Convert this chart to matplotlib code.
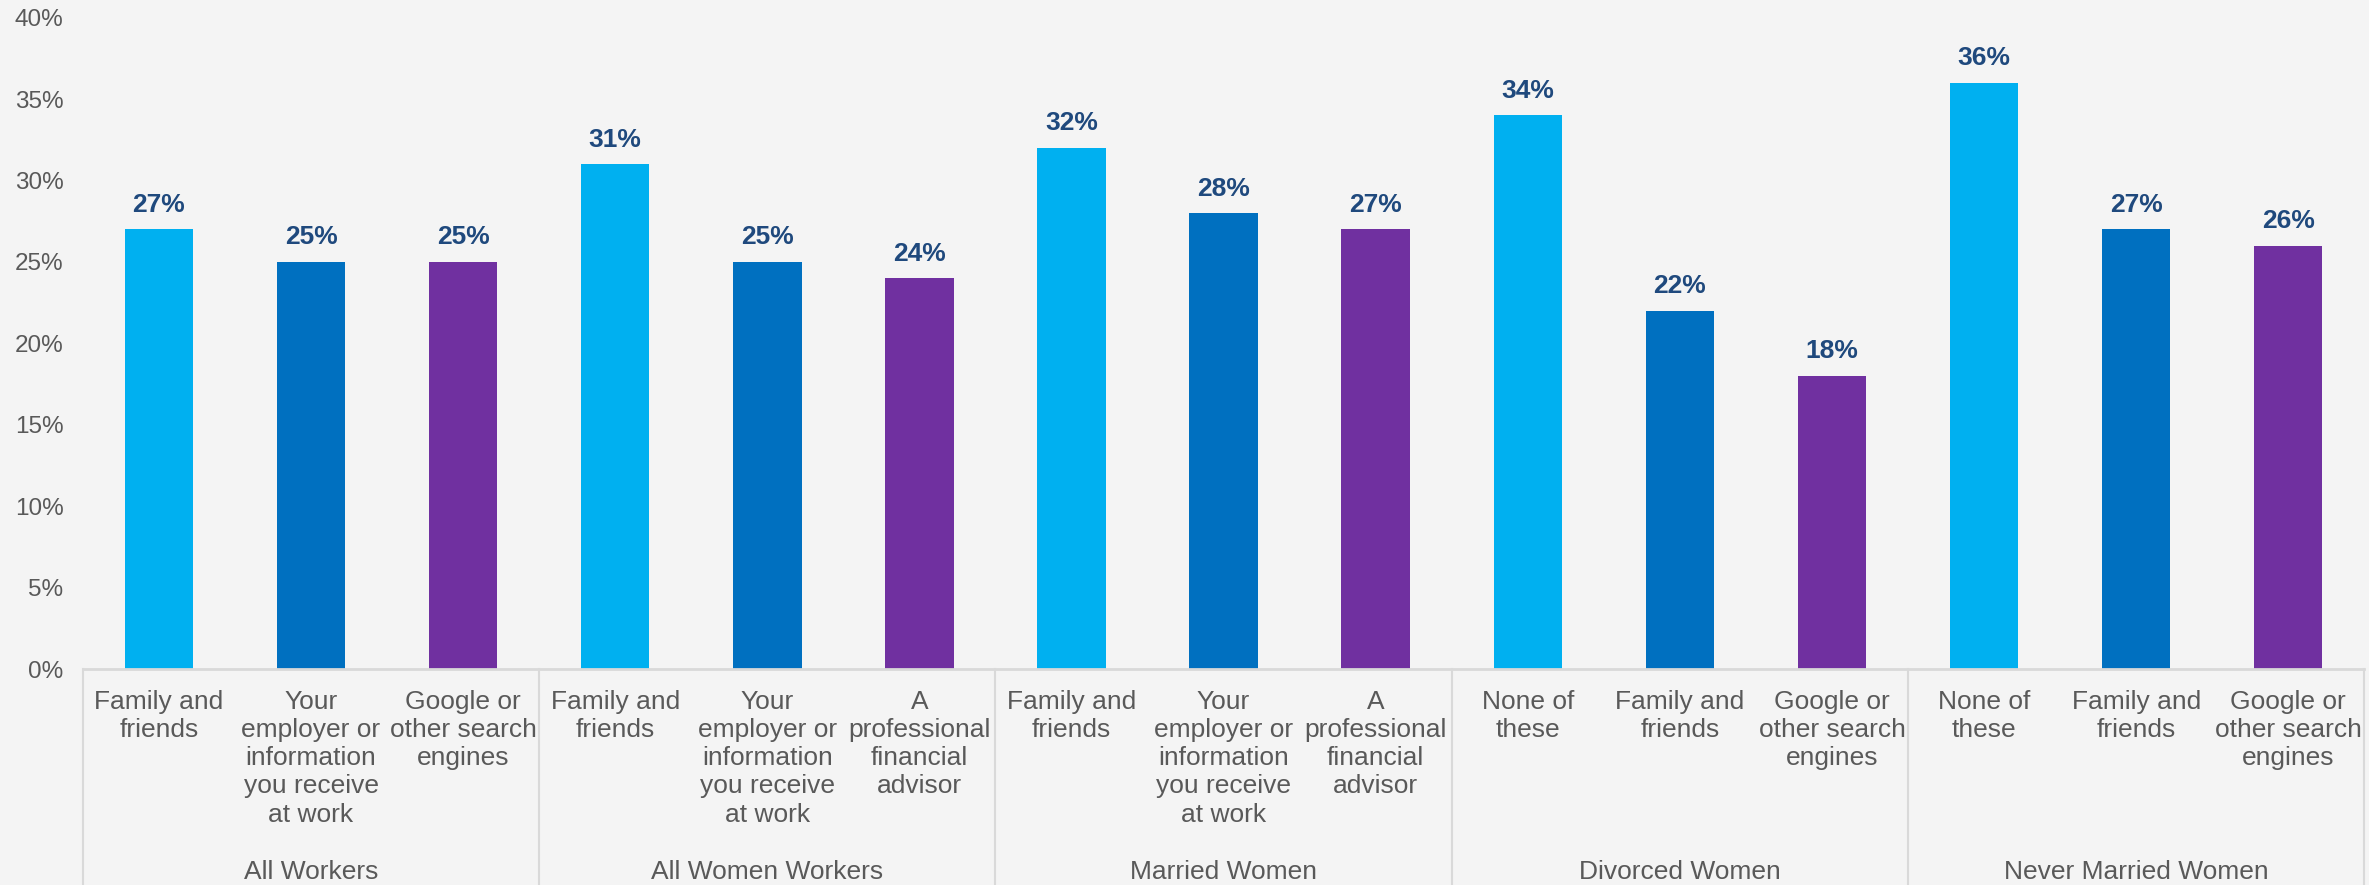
import matplotlib
matplotlib.use("Agg")
import matplotlib.pyplot as plt
import matplotlib.transforms as mtransforms
import numpy as np

plt.rcParams["font.family"] = ["Liberation Sans", "DejaVu Sans"]

groups = ["All Workers", "All Women Workers", "Married Women", "Divorced Women", "Never Married Women"]
categories = [
    ["Family and\nfriends", "Your\nemployer or\ninformation\nyou receive\nat work", "Google or\nother search\nengines"],
    ["Family and\nfriends", "Your\nemployer or\ninformation\nyou receive\nat work", "A\nprofessional\nfinancial\nadvisor"],
    ["Family and\nfriends", "Your\nemployer or\ninformation\nyou receive\nat work", "A\nprofessional\nfinancial\nadvisor"],
    ["None of\nthese", "Family and\nfriends", "Google or\nother search\nengines"],
    ["None of\nthese", "Family and\nfriends", "Google or\nother search\nengines"],
]
values = [
    [27, 25, 25],
    [31, 25, 24],
    [32, 28, 27],
    [34, 22, 18],
    [36, 27, 26],
]
rank_colors = ["#00b0f0", "#0070c0", "#7030a0"]
yticks = [0, 5, 10, 15, 20, 25, 30, 35, 40]

bg = "#f4f4f4"
fig = plt.figure(figsize=(23.69, 8.85), dpi=100, facecolor=bg)
ax = fig.add_axes([0.035, 0.244, 0.963, 0.736], facecolor=bg)

labels = [c for grp in categories for c in grp]
vals = [v for grp in values for v in grp]
cols = [rank_colors[i % 3] for i in range(len(vals))]
x = np.arange(len(vals))

bars = ax.bar(x, vals, width=0.45, color=cols, zorder=2)
ax.bar_label(bars, labels=[f"{v}%" for v in vals], padding=9,
             fontsize=19, fontweight="bold", color="#1f497d")

ax.set_xlim(-0.5, len(vals) - 0.5)
ax.set_ylim(0, 40)
ax.set_yticks(yticks)
ax.set_yticklabels([f"{t}%" for t in yticks])
ax.tick_params(axis="y", length=0, pad=14, labelsize=17.5, labelcolor="#595959")

ax.set_xticks(x)
ax.set_xticklabels(labels, fontsize=19, color="#595959", linespacing=1.22)
ax.tick_params(axis="x", length=0, pad=15)

for s in ["top", "right", "left"]:
    ax.spines[s].set_visible(False)
ax.spines["bottom"].set_color("#d9d9d9")
ax.spines["bottom"].set_linewidth(2)

# group separators and group names below the axis
trans = mtransforms.blended_transform_factory(ax.transData, ax.transAxes)
for b in np.arange(-0.5, len(vals), 3):
    ax.plot([b, b], [0, -0.34], transform=trans, color="#d9d9d9",
            linewidth=1.5, clip_on=False)

ftrans = mtransforms.blended_transform_factory(ax.transData, fig.transFigure)
for i, g in enumerate(groups):
    ax.text(3 * i + 1, 0.007, g, transform=ftrans, ha="center", va="baseline",
            fontsize=19, color="#595959")

fig.savefig("out.png", dpi=100, facecolor=bg)
